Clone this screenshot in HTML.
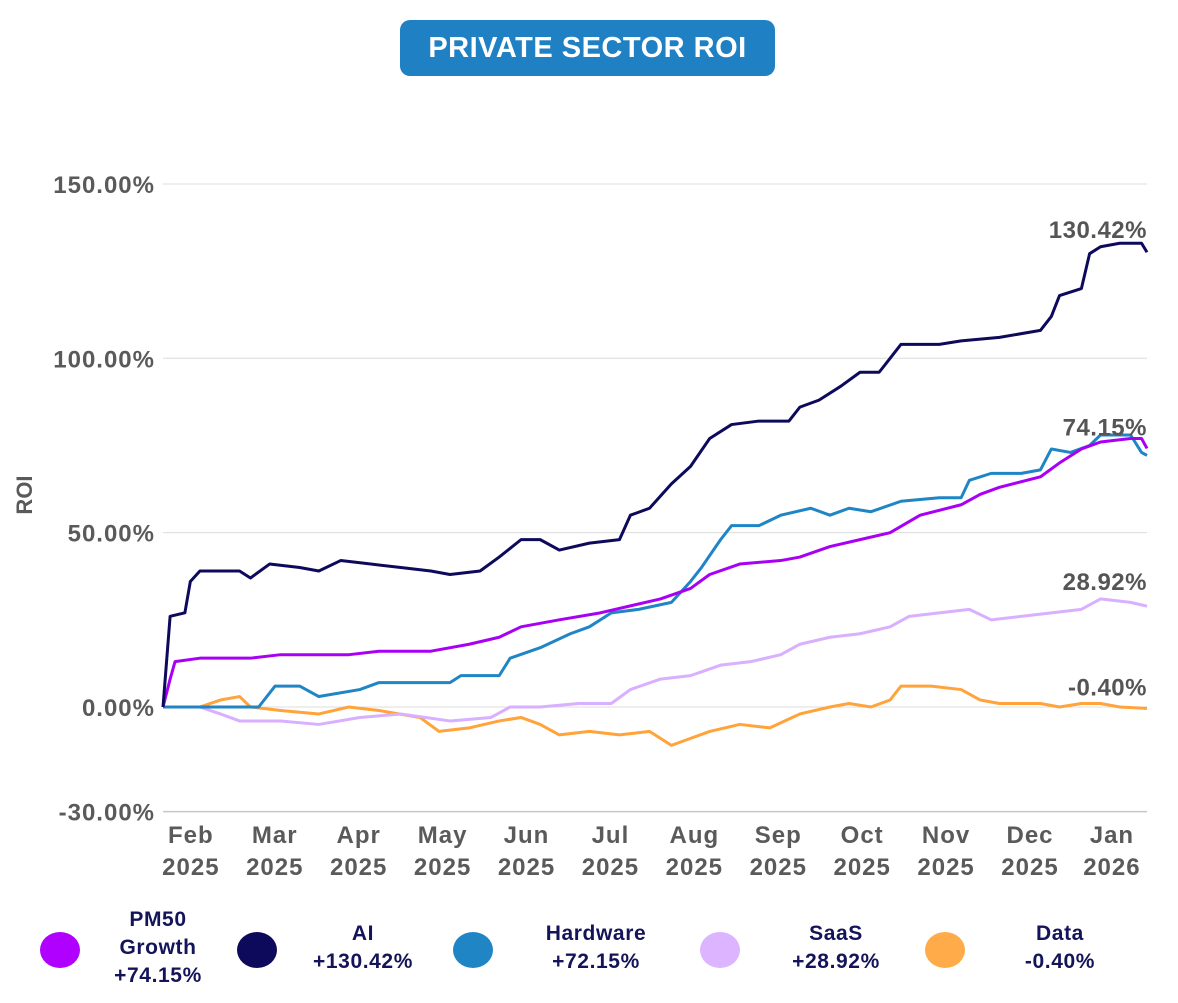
<!DOCTYPE html>
<html><head><meta charset="utf-8"><style>
body{margin:0;background:#fff;font-family:"Liberation Sans",sans-serif}
#wrap{position:relative;width:1178px;height:1003px;overflow:hidden}
.title{position:absolute;left:400px;top:20px;width:375px;height:56px;background:#1f80c3;border-radius:10px;color:#fff;font-weight:bold;font-size:29px;text-align:center;line-height:56px;letter-spacing:0.5px}
.leg{position:absolute;text-align:center;color:#14145a;font-weight:bold;font-size:21px;letter-spacing:0.6px;line-height:28px;transform:translateX(-50%);white-space:nowrap}
.dot{position:absolute;width:40px;height:36px;border-radius:50%}
</style></head><body><div id="wrap">
<div class="title">PRIVATE SECTOR ROI</div>
<svg id="chart" width="1178" height="1003" style="position:absolute;left:0;top:0"></svg>
<div class="dot" style="left:40px;top:932px;background:#b000ff"></div>
<div class="leg" style="left:158px;top:906px">PM50<br>Growth<br>+74.15%</div>
<div class="dot" style="left:237px;top:932px;background:#0d0a5c"></div>
<div class="leg" style="left:363px;top:920px">AI<br>+130.42%</div>
<div class="dot" style="left:453px;top:932px;background:#1f85c5"></div>
<div class="leg" style="left:596px;top:920px">Hardware<br>+72.15%</div>
<div class="dot" style="left:700px;top:932px;background:#dcb4ff"></div>
<div class="leg" style="left:836px;top:920px">SaaS<br>+28.92%</div>
<div class="dot" style="left:925px;top:932px;background:#ffab4a"></div>
<div class="leg" style="left:1060px;top:920px">Data<br>-0.40%</div>
</div>
<script>
const yTicks=[150,100,50,0,-30];
const yTickLabels=["150.00%","100.00%","50.00%","0.00%","-30.00%"];
const monthLabels=["Feb","Mar","Apr","May","Jun","Jul","Aug","Sep","Oct","Nov","Dec","Jan"];
const yearLabels=["2025","2025","2025","2025","2025","2025","2025","2025","2025","2025","2025","2026"];
const aiDays=[0,2.6,8,10,13.5,28,32,39,50,57,65,76,87,98,105,116,123,131,138,145,156,167,171,178,186,193,200,208,218,229,233,240,248,255,262,270,284,292,306,321,325,328,336,339,343,350,358,360];
const aiVals=[0,26,27,36,39,39,37,41,40,39,42,41,40,39,38,39,43,48,48,45,47,48,55,57,64,69,77,81,82,82,86,88,92,96,96,104,104,105,106,108,112,118,120,130,132,133,133,130.42];
const pmDays=[0,2.6,4.4,13.5,32,43,68,79,98,112,123,131,145,160,171,182,193,200,211,226,233,244,255,266,277,292,299,306,321,328,336,343,354,358,360];
const pmVals=[0,8,13,14,14,15,15,16,16,18,20,23,25,27,29,31,34,38,41,42,43,46,48,50,55,58,61,63,66,70,74,76,77,77,74.15];
const hwDays=[0,13.5,28,35,41,50,57,72,79,94,105,109,123,127,138,149,156,164,174,186,193,197,204,208,218,226,237,244,251,259,270,284,292,295,303,314,321,325,332,339,343,354,358,360];
const hwVals=[0,0,0,0,6,6,3,5,7,7,7,9,9,14,17,21,23,27,28,30,36,40,48,52,52,55,57,55,57,56,59,60,60,65,67,67,68,74,73,75,78,78,73,72.15];
const saasDays=[0,13.5,21,28,43,57,72,87,105,120,127,138,152,164,171,182,193,204,215,226,233,244,255,266,273,284,295,303,314,325,336,343,354,360];
const saasVals=[0,0,-2,-4,-4,-5,-3,-2,-4,-3,0,0,1,1,5,8,9,12,13,15,18,20,21,23,26,27,28,25,26,27,28,31,30,28.92];
const dataDays=[0,13.5,21,28,32,43,57,68,79,94,101,112,123,131,138,145,156,167,178,186,193,200,211,222,233,244,251,259,266,270,281,292,299,306,321,328,336,343,350,360];
const dataVals=[0,0,2,3,0,-1,-2,0,-1,-3,-7,-6,-4,-3,-5,-8,-7,-8,-7,-11,-9,-7,-5,-6,-2,0,1,0,2,6,6,5,2,1,1,0,1,1,0,-0.4];
const svg=document.getElementById('chart');const NS='http://www.w3.org/2000/svg';
const X0=163,X1=1147,DMAX=360;
const xs=d=>X0+d/DMAX*(X1-X0);
const ys=v=>707-v*3.487;
function mk(t,a){const e=document.createElementNS(NS,t);for(const k in a)e.setAttribute(k,a[k]);svg.appendChild(e);return e;}
yTicks.forEach((v,i)=>{
 const g=mk('line',{x1:X0,x2:X1,y1:ys(v),y2:ys(v),stroke:'#dcdcdc','stroke-width':1});
 
 
 const t=mk('text',{x:155,y:ys(v)+9,'text-anchor':'end','font-size':24,'font-weight':'bold','letter-spacing':1,fill:'#5a5a5a'});
 t.textContent=yTickLabels[i];
 
 
});
const ax=mk('line',{x1:X0,x2:X1,y1:ys(-30),y2:ys(-30),stroke:'#c8c8c8','stroke-width':1.5});


monthLabels.forEach((m,i)=>{
 const d=8+i*30.7;const x=i==11?xs(d)+4:xs(d)+6;
 const t=mk('text',{x:x,y:843,'text-anchor':'middle','font-size':24,'font-weight':'bold','letter-spacing':1,fill:'#5a5a5a'});
 t.textContent=m;
 
 
 const t2=mk('text',{x:x,y:875,'text-anchor':'middle','font-size':24,'font-weight':'bold','letter-spacing':1,fill:'#5a5a5a'});
 t2.textContent=yearLabels[i];
 
 
});
const yl=mk('text',{x:0,y:0,transform:'translate(32,495) rotate(-90)','text-anchor':'middle','font-size':22,'font-weight':'bold',fill:'#5a5a5a'});
yl.textContent='ROI';


function series(days,vals,color,name){
 const p=mk('polyline',{points:days.map((d,i)=>xs(d)+','+ys(vals[i])).join(' '),fill:'none',stroke:color,'stroke-width':3,'stroke-linejoin':'round'});
 
 
}
series(dataDays,dataVals,'#ffa33a','series-data');
series(saasDays,saasVals,'#d8b0ff','series-saas');
series(hwDays,hwVals,'#1f85c5','series-hardware');
series(pmDays,pmVals,'#a800f5','series-pm50');
series(aiDays,aiVals,'#0d0a5c','series-ai');
function endLabel(val,txt,dy,name){
 const t=mk('text',{x:1147,y:ys(val)+dy,'text-anchor':'end','font-size':24,'font-weight':'bold','letter-spacing':0.5,fill:'#555'});
 t.textContent=txt;
 
 
}
endLabel(aiVals[aiVals.length-1],'130.42%',-14,'end-label-ai');
endLabel(pmVals[pmVals.length-1],'74.15%',-13,'end-label-pm50');
endLabel(saasVals[saasVals.length-1],'28.92%',-16,'end-label-saas');
endLabel(dataVals[dataVals.length-1],'-0.40%',-13,'end-label-data');
</script></body></html>
